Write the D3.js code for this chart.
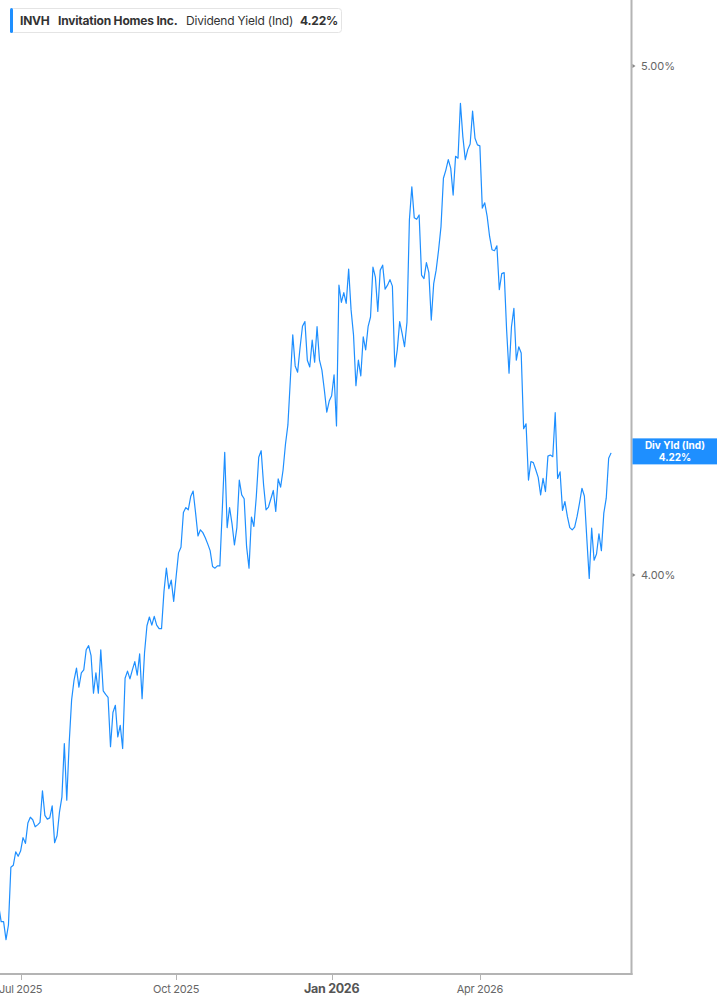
<!DOCTYPE html>
<html>
<head>
<meta charset="utf-8">
<script src="https://cdn.jsdelivr.net/npm/d3@7"></script>
<style>
  html, body { margin: 0; padding: 0; background: #fff; }
  svg { display: block; }
  text { font-family: Inter, "Noto Sans", sans-serif; }
</style>
</head>
<body>
<svg id="chart" width="717" height="1005"></svg>
<script>
// ---------- DATA ----------
const startDate = "2025-06-17";
const endDate = "2026-06-18";
const holidays = ["2025-06-19","2025-07-04","2025-09-01","2025-11-27","2025-12-25",
  "2026-01-01","2026-01-19","2026-02-16","2026-04-03","2026-05-25","2026-06-19"];

const yieldValues = [
  3.460,3.436,3.436,3.409,3.431,3.519,3.522,3.543,3.536,3.544,
  3.565,3.556,3.588,3.597,3.593,3.582,3.585,3.589,3.639,3.600,
  3.594,3.596,3.615,3.557,3.568,3.605,3.629,3.715,3.624,3.716,
  3.787,3.820,3.840,3.808,3.832,3.837,3.871,3.878,3.861,3.798,
  3.832,3.798,3.871,3.802,3.796,3.791,3.710,3.766,3.778,3.726,
  3.745,3.707,3.823,3.835,3.822,3.837,3.851,3.828,3.864,3.789,
  3.866,3.912,3.927,3.913,3.928,3.913,3.907,3.907,3.971,4.012,
  3.976,3.991,3.954,3.997,4.039,4.049,4.111,4.120,4.116,4.140,
  4.150,4.111,4.069,4.080,4.075,4.066,4.055,4.043,4.015,4.012,
  4.016,4.016,4.116,4.221,4.084,4.120,4.091,4.053,4.084,4.170,
  4.143,4.136,4.050,4.012,4.103,4.086,4.140,4.212,4.224,4.161,
  4.116,4.121,4.136,4.151,4.113,4.172,4.157,4.188,4.236,4.272,
  4.357,4.444,4.384,4.372,4.419,4.461,4.470,4.395,4.382,4.434,
  4.391,4.460,4.395,4.376,4.338,4.296,4.317,4.327,4.367,4.270,
  4.542,4.508,4.527,4.506,4.574,4.493,4.444,4.346,4.395,4.365,
  4.440,4.415,4.460,4.479,4.578,4.558,4.490,4.572,4.582,4.534,
  4.542,4.553,4.540,4.382,4.415,4.470,4.447,4.421,4.469,4.674,
  4.742,4.678,4.675,4.684,4.562,4.555,4.587,4.567,4.473,4.545,
  4.572,4.612,4.660,4.760,4.777,4.799,4.781,4.725,4.806,4.802,
  4.919,4.847,4.799,4.820,4.832,4.902,4.844,4.830,4.828,4.698,
  4.709,4.681,4.640,4.613,4.611,4.621,4.533,4.565,4.567,4.454,
  4.370,4.460,4.496,4.395,4.421,4.409,4.265,4.274,4.170,4.204,
  4.202,4.189,4.175,4.143,4.173,4.149,4.214,4.216,4.213,4.295,
  4.173,4.185,4.115,4.131,4.104,4.084,4.080,4.085,4.104,4.128,
  4.155,4.141,4.065,3.994,4.083,4.026,4.037,4.073,4.043,4.110,
  4.137,4.210,4.22
];

const xTickDates = ["2025-07-01","2025-10-01","2026-01-02","2026-04-01"];
const xTickLabels = ["Jul 2025","Oct 2025","Jan 2026","Apr 2026"];
const xTickBold = [false,false,true,false];
const yTickValues = [4.00, 5.00];
const yTickLabels = ["4.00%","5.00%"];

const ticker = "INVH";
const companyName = "Invitation Homes Inc.";
const seriesName = "Dividend Yield (Ind)";
const shortName = "Div Yld (Ind)";
const lastLabel = "4.22%";

// ---------- TRADING CALENDAR ----------
const fmt = d3.timeFormat("%Y-%m-%d");
const parse = d3.timeParse("%Y-%m-%d");
const holidaySet = new Set(holidays);
const dates = d3.timeDay.range(parse(startDate), d3.timeDay.offset(parse(endDate), 1))
  .filter(d => d.getDay() !== 0 && d.getDay() !== 6 && !holidaySet.has(fmt(d)))
  .map(fmt);
const data = dates.map((d, i) => ({date: d, value: yieldValues[i]})).filter(d => d.value != null);

// ---------- LAYOUT ----------
const W = 717, H = 1005;
const plotRight = 631.5, plotBottom = 974;
const svg = d3.select("#chart");

const x = d3.scalePoint().domain(dates).range([-1.28, 611.1]);
const y = d3.scaleLog().domain([3.3581, 5.1468]).range([plotBottom, 0]);

const lineColor = "#1e8fff";
const axisColor = "#b4b4b4";

// line
svg.append("path")
  .datum(data)
  .attr("fill", "none")
  .attr("stroke", lineColor)
  .attr("stroke-width", 1.2)
  .attr("stroke-linejoin", "round")
  .attr("d", d3.line().x(d => x(d.date)).y(d => y(d.value)));

// right axis line
svg.append("line")
  .attr("x1", plotRight).attr("x2", plotRight)
  .attr("y1", 0).attr("y2", plotBottom + 1)
  .attr("stroke", axisColor).attr("stroke-width", 2);

// bottom axis line
svg.append("line")
  .attr("x1", 0).attr("x2", plotRight + 1)
  .attr("y1", plotBottom).attr("y2", plotBottom)
  .attr("stroke", axisColor).attr("stroke-width", 2);

// x ticks
xTickDates.forEach((d, i) => {
  const xx = Math.round(x(d)) + 0.5;
  svg.append("line")
    .attr("x1", xx).attr("x2", xx)
    .attr("y1", plotBottom).attr("y2", plotBottom + 6)
    .attr("stroke", axisColor).attr("stroke-width", 1);
  svg.append("text")
    .attr("x", x(d)).attr("y", 993)
    .attr("text-anchor", "middle")
    .attr("font-size", xTickBold[i] ? 12.5 : 11)
    .attr("font-weight", xTickBold[i] ? 700 : 400)
    .attr("fill", xTickBold[i] ? "#555" : "#666")
    .attr("letter-spacing", -0.3)
    .text(xTickLabels[i]);
});

// y ticks
yTickValues.forEach((v, i) => {
  const yy = y(v);
  svg.append("path")
    .attr("d", `M${plotRight + 1},${yy - 2} L${plotRight + 4},${yy} L${plotRight + 1},${yy + 2} Z`)
    .attr("fill", "#888");
  svg.append("text")
    .attr("x", 641).attr("y", yy + 4)
    .attr("font-size", 11)
    .attr("fill", "#666")
    .text(yTickLabels[i]);
});

// last value tag
const lastY = y(yieldValues[yieldValues.length - 1]);
svg.append("rect")
  .attr("x", plotRight + 1).attr("y", lastY - 14.5)
  .attr("width", W - plotRight - 1).attr("height", 26)
  .attr("fill", "#1e8fff");
svg.append("text")
  .attr("x", 675).attr("y", lastY - 3.5)
  .attr("text-anchor", "middle").attr("font-size", 10).attr("font-weight", 700)
  .attr("fill", "#fff").text(shortName);
svg.append("text")
  .attr("x", 675).attr("y", lastY + 8.5)
  .attr("text-anchor", "middle").attr("font-size", 10).attr("font-weight", 700)
  .attr("fill", "#fff").text(lastLabel);

// legend
const lg = svg.append("g");
lg.append("rect")
  .attr("x", 10.5).attr("y", 8.5).attr("width", 331).attr("height", 24)
  .attr("rx", 3).attr("fill", "#fff").attr("stroke", "#e4e4e4");
lg.append("rect")
  .attr("x", 10).attr("y", 8).attr("width", 3).attr("height", 25)
  .attr("rx", 1.5).attr("fill", lineColor);
const legendItems = [
  {t: ticker, x: 20, w: 700, c: "#333"},
  {t: companyName, x: 58, w: 700, c: "#333"},
  {t: seriesName, x: 186, w: 400, c: "#333"},
  {t: lastLabel, x: 300, w: 700, c: "#333"}
];
legendItems.forEach(it => {
  lg.append("text")
    .attr("x", it.x).attr("y", 25)
    .attr("font-size", 12).attr("font-weight", it.w)
    .attr("fill", it.c).attr("letter-spacing", -0.2)
    .text(it.t);
});
</script>
</body>
</html>
